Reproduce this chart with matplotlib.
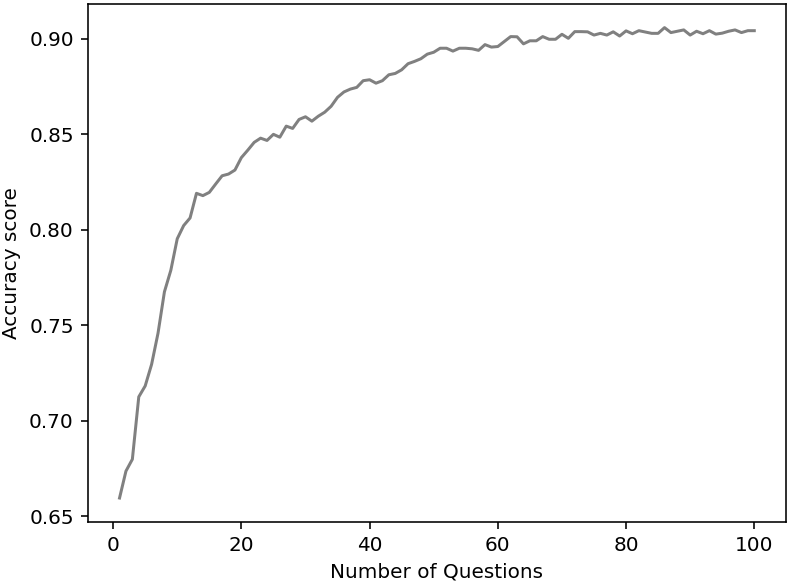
import matplotlib
matplotlib.use("Agg")
import matplotlib.pyplot as plt

# number of questions asked
questions = list(range(1, 101))

# accuracy score, one value per question count
accuracy = [
    0.6595, 0.6736, 0.6798, 0.7125, 0.7182, 0.7295, 0.7458, 0.7675, 0.7788, 0.7953,
    0.8022, 0.8062, 0.8191, 0.8179, 0.8196, 0.8240, 0.8283, 0.8292, 0.8313, 0.8378,
    0.8417, 0.8458, 0.8480, 0.8468, 0.8500, 0.8485, 0.8543, 0.8531, 0.8578, 0.8592,
    0.8569, 0.8595, 0.8616, 0.8647, 0.8694, 0.8722, 0.8737, 0.8746, 0.8781, 0.8786,
    0.8768, 0.8781, 0.8812, 0.8819, 0.8838, 0.8870, 0.8882, 0.8896, 0.8920, 0.8930,
    0.8951, 0.8951, 0.8936, 0.8951, 0.8951, 0.8948, 0.8940, 0.8970, 0.8957, 0.8960,
    0.8986, 0.9012, 0.9011, 0.8974, 0.8990, 0.8990, 0.9012, 0.8998, 0.8998, 0.9024,
    0.9003, 0.9038, 0.9038, 0.9037, 0.9020, 0.9029, 0.9020, 0.9037, 0.9015, 0.9042,
    0.9027, 0.9043, 0.9036, 0.9029, 0.9029, 0.9059, 0.9033, 0.9040, 0.9047, 0.9020,
    0.9040, 0.9027, 0.9043, 0.9025, 0.9030, 0.9040, 0.9047, 0.9033, 0.9043, 0.9043,
]

fig = plt.figure(figsize=(791 / 144, 586 / 144), dpi=144)
ax = fig.add_subplot(111)
ax.plot(questions, accuracy, color="grey", linewidth=1.5)
ax.set_xlabel("Number of Questions")
ax.set_ylabel("Accuracy score")
fig.subplots_adjust(left=0.111, right=0.9937, top=0.993, bottom=0.11)
fig.savefig("out.png", dpi=144)
